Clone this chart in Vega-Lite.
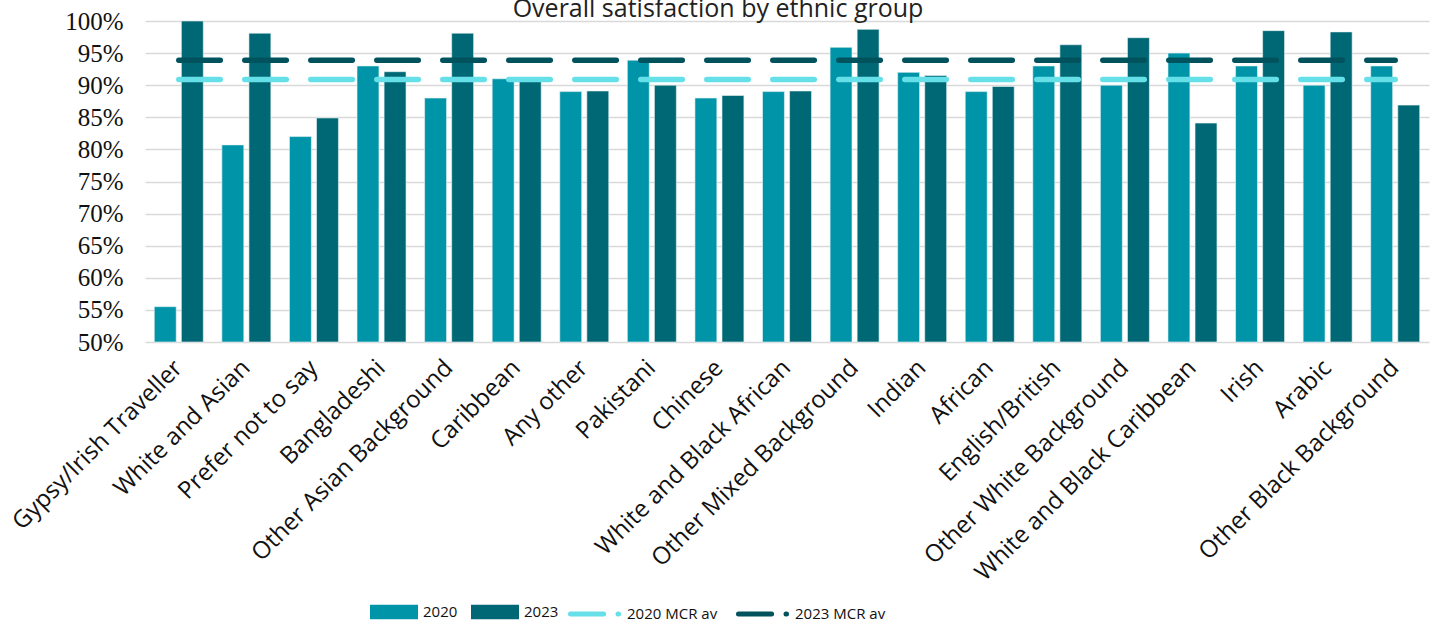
{
  "$schema": "https://vega.github.io/schema/vega-lite/v6.json",
  "autosize": {"type": "none"},
  "width": 1284,
  "height": 321,
  "padding": {"left": 145, "top": 21, "right": 6, "bottom": 281},
  "background": "white",
  "title": {
    "text": "Overall satisfaction by ethnic group",
    "anchor": "middle",
    "dx": -69,
    "offset": -13,
    "font": "Open Sans",
    "fontSize": 25,
    "fontWeight": "normal",
    "color": "#222222"
  },
  "datasets": {
    "bars": [
      {"group": "Gypsy/Irish Traveller", "year": "2020", "value": 0.555},
      {"group": "Gypsy/Irish Traveller", "year": "2023", "value": 1.0},
      {"group": "White and Asian", "year": "2020", "value": 0.807},
      {"group": "White and Asian", "year": "2023", "value": 0.981},
      {"group": "Prefer not to say", "year": "2020", "value": 0.82},
      {"group": "Prefer not to say", "year": "2023", "value": 0.849},
      {"group": "Bangladeshi", "year": "2020", "value": 0.93},
      {"group": "Bangladeshi", "year": "2023", "value": 0.921},
      {"group": "Other Asian Background", "year": "2020", "value": 0.88},
      {"group": "Other Asian Background", "year": "2023", "value": 0.981},
      {"group": "Caribbean", "year": "2020", "value": 0.91},
      {"group": "Caribbean", "year": "2023", "value": 0.907},
      {"group": "Any other", "year": "2020", "value": 0.89},
      {"group": "Any other", "year": "2023", "value": 0.891},
      {"group": "Pakistani", "year": "2020", "value": 0.939},
      {"group": "Pakistani", "year": "2023", "value": 0.90},
      {"group": "Chinese", "year": "2020", "value": 0.88},
      {"group": "Chinese", "year": "2023", "value": 0.884},
      {"group": "White and Black African", "year": "2020", "value": 0.89},
      {"group": "White and Black African", "year": "2023", "value": 0.891},
      {"group": "Other Mixed Background", "year": "2020", "value": 0.959},
      {"group": "Other Mixed Background", "year": "2023", "value": 0.987},
      {"group": "Indian", "year": "2020", "value": 0.92},
      {"group": "Indian", "year": "2023", "value": 0.915},
      {"group": "African", "year": "2020", "value": 0.89},
      {"group": "African", "year": "2023", "value": 0.898},
      {"group": "English/British", "year": "2020", "value": 0.93},
      {"group": "English/British", "year": "2023", "value": 0.963},
      {"group": "Other White Background", "year": "2020", "value": 0.90},
      {"group": "Other White Background", "year": "2023", "value": 0.974},
      {"group": "White and Black Caribbean", "year": "2020", "value": 0.95},
      {"group": "White and Black Caribbean", "year": "2023", "value": 0.841},
      {"group": "Irish", "year": "2020", "value": 0.93},
      {"group": "Irish", "year": "2023", "value": 0.985},
      {"group": "Arabic", "year": "2020", "value": 0.90},
      {"group": "Arabic", "year": "2023", "value": 0.983},
      {"group": "Other Black Background", "year": "2020", "value": 0.93},
      {"group": "Other Black Background", "year": "2023", "value": 0.869}
    ],
    "lines": [
      {"group": "Gypsy/Irish Traveller", "series": "2020 MCR av", "value": 0.909},
      {"group": "White and Asian", "series": "2020 MCR av", "value": 0.909},
      {"group": "Prefer not to say", "series": "2020 MCR av", "value": 0.909},
      {"group": "Bangladeshi", "series": "2020 MCR av", "value": 0.909},
      {"group": "Other Asian Background", "series": "2020 MCR av", "value": 0.909},
      {"group": "Caribbean", "series": "2020 MCR av", "value": 0.909},
      {"group": "Any other", "series": "2020 MCR av", "value": 0.909},
      {"group": "Pakistani", "series": "2020 MCR av", "value": 0.909},
      {"group": "Chinese", "series": "2020 MCR av", "value": 0.909},
      {"group": "White and Black African", "series": "2020 MCR av", "value": 0.909},
      {"group": "Other Mixed Background", "series": "2020 MCR av", "value": 0.909},
      {"group": "Indian", "series": "2020 MCR av", "value": 0.909},
      {"group": "African", "series": "2020 MCR av", "value": 0.909},
      {"group": "English/British", "series": "2020 MCR av", "value": 0.909},
      {"group": "Other White Background", "series": "2020 MCR av", "value": 0.909},
      {"group": "White and Black Caribbean", "series": "2020 MCR av", "value": 0.909},
      {"group": "Irish", "series": "2020 MCR av", "value": 0.909},
      {"group": "Arabic", "series": "2020 MCR av", "value": 0.909},
      {"group": "Other Black Background", "series": "2020 MCR av", "value": 0.909},
      {"group": "Gypsy/Irish Traveller", "series": "2023 MCR av", "value": 0.939},
      {"group": "White and Asian", "series": "2023 MCR av", "value": 0.939},
      {"group": "Prefer not to say", "series": "2023 MCR av", "value": 0.939},
      {"group": "Bangladeshi", "series": "2023 MCR av", "value": 0.939},
      {"group": "Other Asian Background", "series": "2023 MCR av", "value": 0.939},
      {"group": "Caribbean", "series": "2023 MCR av", "value": 0.939},
      {"group": "Any other", "series": "2023 MCR av", "value": 0.939},
      {"group": "Pakistani", "series": "2023 MCR av", "value": 0.939},
      {"group": "Chinese", "series": "2023 MCR av", "value": 0.939},
      {"group": "White and Black African", "series": "2023 MCR av", "value": 0.939},
      {"group": "Other Mixed Background", "series": "2023 MCR av", "value": 0.939},
      {"group": "Indian", "series": "2023 MCR av", "value": 0.939},
      {"group": "African", "series": "2023 MCR av", "value": 0.939},
      {"group": "English/British", "series": "2023 MCR av", "value": 0.939},
      {"group": "Other White Background", "series": "2023 MCR av", "value": 0.939},
      {"group": "White and Black Caribbean", "series": "2023 MCR av", "value": 0.939},
      {"group": "Irish", "series": "2023 MCR av", "value": 0.939},
      {"group": "Arabic", "series": "2023 MCR av", "value": 0.939},
      {"group": "Other Black Background", "series": "2023 MCR av", "value": 0.939}
    ]
  },
  "encoding": {
    "x": {
      "field": "group",
      "type": "nominal",
      "sort": null,
      "scale": {"paddingInner": 0.275, "paddingOuter": 0.1375},
      "axis": {
        "title": null,
        "labelAngle": -45,
        "labelAlign": "right",
        "labelBaseline": "middle",
        "labelPadding": 22,
        "labelFont": "Open Sans",
        "labelFontSize": 24,
        "labelColor": "#111111",
        "labelLimit": 500,
        "domain": false,
        "ticks": false,
        "grid": false
      }
    },
    "y": {
      "field": "value",
      "type": "quantitative",
      "scale": {"domain": [0.5, 1.0], "zero": false, "clamp": true},
      "axis": {
        "title": null,
        "format": ".0%",
        "values": [0.5, 0.55, 0.6, 0.65, 0.7, 0.75, 0.8, 0.85, 0.9, 0.95, 1.0],
        "labelFont": "Liberation Serif",
        "labelFontSize": 25,
        "labelColor": "#111111",
        "labelPadding": 22,
        "domain": false,
        "ticks": false,
        "grid": true,
        "gridColor": "#d9d9d9",
        "gridWidth": 1.5
      }
    }
  },
  "layer": [
    {
      "data": {"name": "bars"},
      "mark": {"type": "bar", "stroke": "#e8f4f5", "strokeWidth": 0.6},
      "encoding": {
        "xOffset": {"field": "year", "type": "nominal", "scale": {"paddingInner": 0.19, "paddingOuter": 0}},
        "fill": {
          "field": "year",
          "type": "nominal",
          "scale": {"domain": ["2020", "2023"], "range": ["#0094a8", "#006875"]},
          "legend": {
            "title": null,
            "orient": "none",
            "legendX": 225,
            "legendY": 567,
            "direction": "horizontal",
            "columns": 2,
            "padding": 0,
            "columnPadding": 13,
            "symbolType": "M-1,-0.3H1V0.3H-1Z",
            "symbolSize": 2304,
            "symbolStrokeWidth": 0,
            "labelOffset": 5,
            "labelFont": "Open Sans",
            "labelFontSize": 15,
            "labelColor": "#111111"
          }
        }
      }
    },
    {
      "data": {"name": "lines"},
      "mark": {"type": "line", "strokeWidth": 5.5, "strokeDash": [41.5, 24.5], "strokeCap": "round"},
      "encoding": {
        "stroke": {
          "field": "series",
          "type": "nominal",
          "scale": {"domain": ["2020 MCR av", "2023 MCR av"], "range": ["#66e0e8", "#00525d"]},
          "legend": {
            "title": null,
            "orient": "none",
            "legendX": 423,
            "legendY": 566,
            "direction": "horizontal",
            "columns": 2,
            "padding": 0,
            "columnPadding": 10,
            "symbolType": "M-1,0L0.35,0M0.94,0L0.96,0",
            "symbolSize": 2401,
            "symbolStrokeWidth": 5,
            "symbolDash": [],
            "labelOffset": 5,
            "labelFont": "Open Sans",
            "labelFontSize": 15,
            "labelColor": "#111111",
            "encode": {"symbols": {"update": {"strokeCap": {"value": "round"}}}}
          }
        }
      }
    }
  ],
  "config": {
    "view": {"stroke": null}
  }
}
